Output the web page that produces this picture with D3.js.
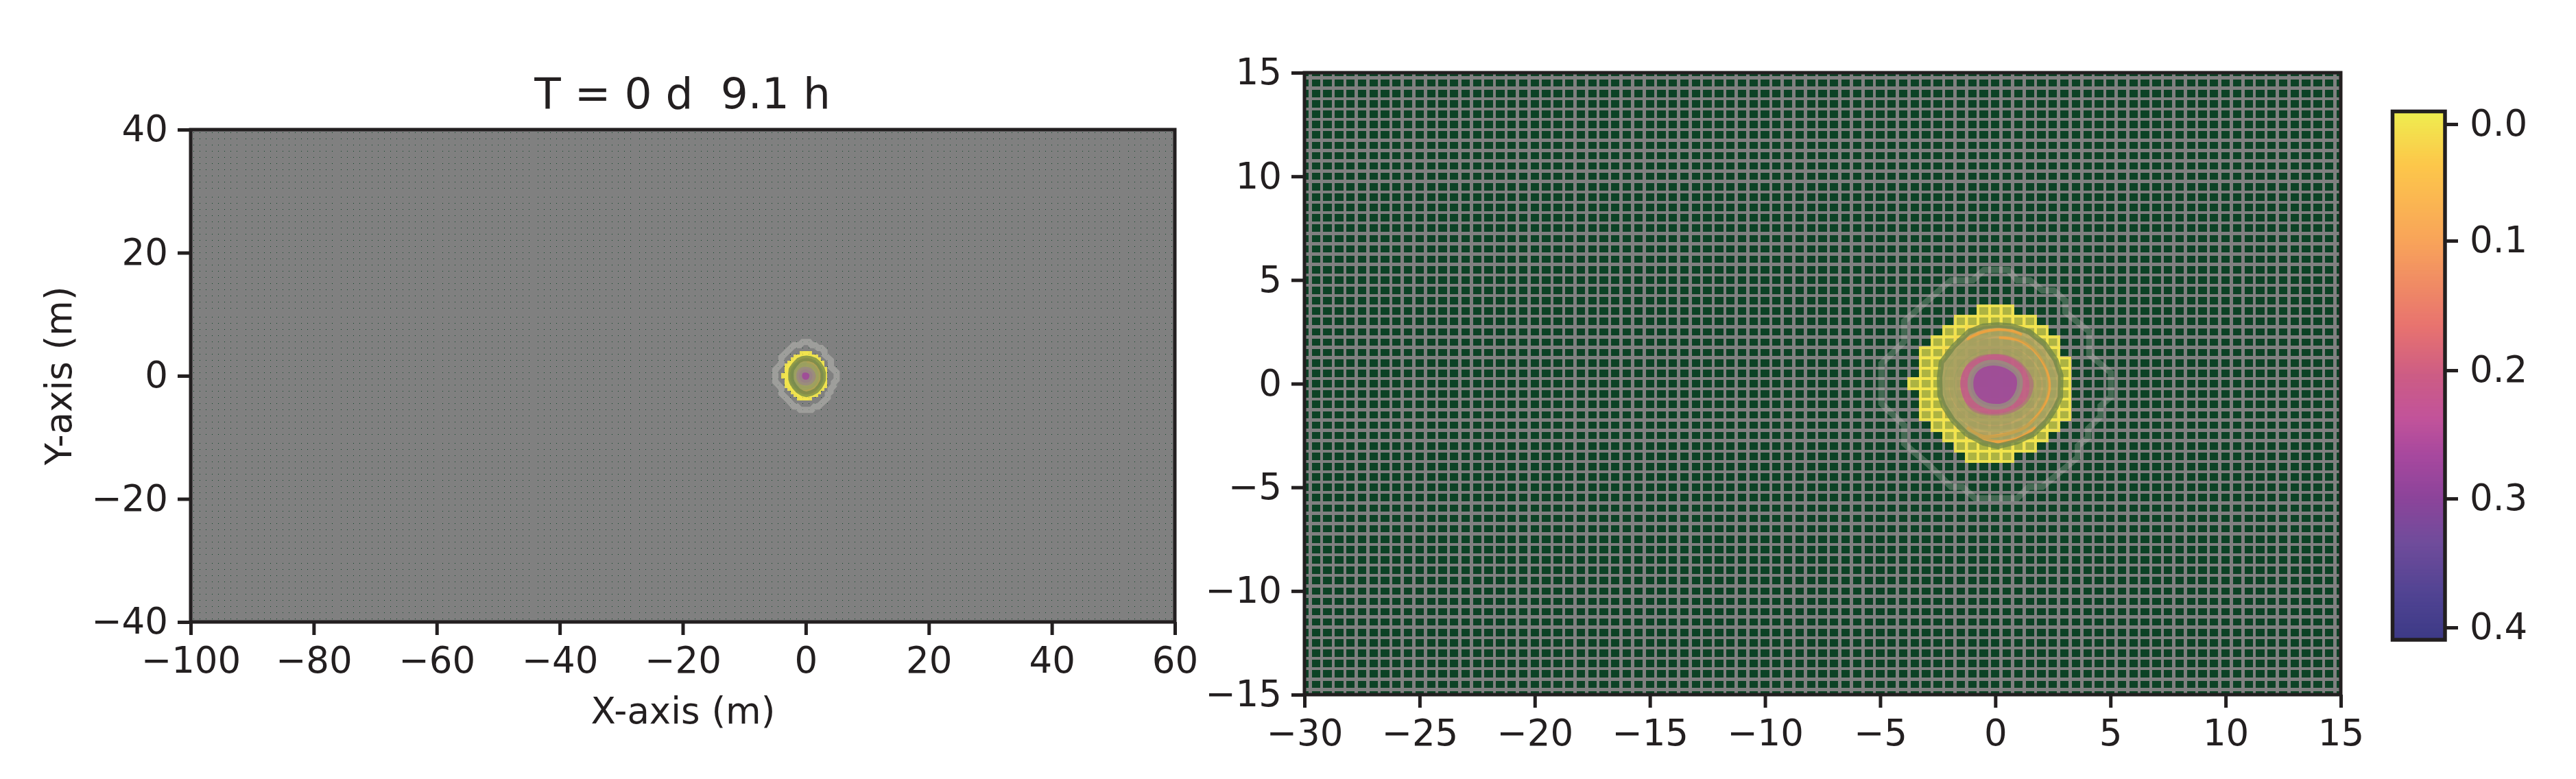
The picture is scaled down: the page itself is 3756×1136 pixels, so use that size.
<!DOCTYPE html>
<html><head><meta charset="utf-8">
<script src="https://cdnjs.cloudflare.com/ajax/libs/d3/7.8.5/d3.min.js"></script>
<style>html,body{margin:0;padding:0;background:#fff}svg{display:block}text{font-family:"DejaVu Sans";fill:#231f20}</style>
</head><body><svg id="c" width="3756" height="1136"></svg>
<script>
// ---- data (metres / colour-bar units) ----
const titleText = "T = 0 d\u00a0\u00a09.1 h";
const leftXTicks = [-100,-80,-60,-40,-20,0,20,40,60];
const leftYTicks = [-40,-20,0,20,40];
const rightXTicks = [-30,-25,-20,-15,-10,-5,0,5,10,15];
const rightYTicks = [-15,-10,-5,0,5,10,15];
const barTicks = [0,0.1,0.2,0.3,0.4];
const meshXRange = [-99.75,59.75], meshYRange = [-39.75,39.75], meshStep = 0.5;

const rowY =     [3.5,3,2.5,2,1.5,1,0.5,0,-0.5,-1,-1.5,-2,-2.5,-3,-3.5];
const rowStart = [-0.5,-1.5,-2,-2.5,-3,-3,-3,-3.5,-3,-3,-3,-2.5,-2,-1.5,-1];
const rowValues = [
 [0,0,0],
 [0,0,0,0,0,0,0],
 [0,0,.01,.02,.02,.02,.01,0,0],
 [0,0,.01,.03,.05,.05,.05,.03,.01,0,0],
 [0,0,.01,.03,.07,.10,.12,.10,.07,.03,.01,0],
 [0,0,.02,.06,.11,.17,.22,.17,.11,.06,.02,0,0],
 [0,0,.03,.08,.15,.25,.30,.25,.15,.08,.03,0,0],
 [0,0,0,.03,.10,.20,.30,.32,.30,.20,.10,.03,0,0],
 [0,0,.03,.08,.15,.25,.30,.25,.15,.08,.03,0,0],
 [0,0,.02,.06,.11,.17,.22,.17,.11,.06,.02,0,0],
 [0,0,.01,.04,.07,.10,.12,.10,.07,.04,.01,0,0],
 [0,0,.01,.03,.05,.05,.05,.03,.01,0,0],
 [0,0,.01,.02,.02,.02,.01,0,0],
 [0,0,0,0,0,0,0],
 [0,0,0,0]
];
const outerRing = [[-.49,5.49],[-.98,4.99],[-1.92,4.99],[-2.27,4.66],[-3.96,3.01],[-3.96,2.02],[-4.95,.97],[-4.95,-.96],[-3.96,-2.01],[-3.96,-2.89],[-2.92,-3.88],[-1.92,-4.98],[-1.43,-4.98],[-.88,-5.53],[.95,-5.53],[1.45,-4.98],[2.04,-4.98],[3.58,-3.55],[3.58,-3],[4.03,-2.61],[4.03,-2.17],[4.57,-1.57],[4.57,-1.07],[5.02,-.63],[5.02,.53],[4.08,1.41],[4.08,2.51],[3.04,3.45],[3.04,4],[2.54,4.5],[2.04,4.5],[1.5,4.99],[.95,4.99],[.56,5.49]];
const ringA = [[.11,2.83],[.73,2.77],[1.47,2.5],[2.14,1.91],[2.62,1.14],[2.84,.4],[2.82,-.66],[2.62,-1.14],[2.24,-1.8],[1.67,-2.42],[.93,-2.8],[.11,-3.02],[-.52,-2.86],[-1.25,-2.42],[-1.83,-1.78],[-2.25,-1.06],[-2.4,-.55],[-2.42,.31],[-2.34,1.03],[-1.83,1.77],[-1.15,2.5],[-.52,2.77]];
const ringB = [[.1,2.42],[1.25,2.13],[2.05,1.3],[2.52,.2],[2.4,-.85],[1.75,-1.8],[.8,-2.4],[-.2,-2.62],[-1.2,-2.2],[-2,-1.3],[-2.3,-.2],[-2.1,.95],[-1.2,1.95]];
const ringC = [[.05,2.05],[1.1,1.75],[1.85,1.05],[2.2,0],[2,-.95],[1.4,-1.7],[.4,-2.15],[-.6,-2.1],[-1.5,-1.55],[-2.05,-.7],[-2.1,.35],[-1.65,1.25],[-.85,1.85]];
const ringD = [[0,1.78],[.95,1.5],[1.6,.85],[1.87,0],[1.65,-.85],[1.05,-1.5],[.1,-1.85],[-.9,-1.65],[-1.6,-1],[-1.88,-.1],[-1.7,.75],[-1.05,1.45]];
const ringE = [[-.1,1.55],[.75,1.35],[1.35,.8],[1.6,0],[1.45,-.8],[.85,-1.35],[-.1,-1.6],[-.9,-1.4],[-1.5,-.8],[-1.68,0],[-1.5,.75],[-.9,1.3]];
const pinkDisc = [[-.24,1.42],[.56,1.36],[1.15,.98],[1.65,.09],[1.45,-.79],[.75,-1.39],[-.24,-1.53],[-1.03,-1.28],[-1.43,-.57],[-1.51,.2],[-1.23,.92],[-.78,1.31]];
const coreRing = [[.01,1.01],[.61,.81],[1,.42],[1.07,-.02],[.95,-.51],[.61,-.95],[.06,-1.12],[-.59,-.95],[-.98,-.51],[-1.08,.09],[-.93,.59],[-.54,.92]];
const orangeArcs = [
 [[-1.23,2.13],[-.63,2.46],[.06,2.6],[.75,2.52],[1.15,2.35]],
 [[.16,2.22],[.95,2.13],[1.55,1.75],[2.04,1.09],[2.32,.2],[2.29,-.57],[1.94,-1.34],[1.35,-2.06],[.46,-2.44],[-.54,-2.53],[-1.23,-2.11]],
 [[-.73,-2.55],[.16,-2.8],[1.05,-2.61],[1.75,-2.11]]
];
const barStopFractions = [0,.1,.246,.405,.5,.58,.65,.73,.815,.915,1];
const barStopColors = ["#efed4f","#fdc74a","#f8a35a","#e8736f","#cc5c85","#c2539a","#a7489e","#8c449a","#704c9b","#504392","#3c3a86"];

// ---- layout ----
const INK = "#231f20", GREEN = "#0c4225", GRAY = "#808080";
const svg = d3.select("#c");
const barBox = {x0:3488.5,x1:3565,y0:162.5,y1:933};
const barTickPx = [181,351,540,727,915];
const valueToPx = d3.scaleLinear().domain(barTicks).range(barTickPx);
const fracToColor = d3.scaleLinear().domain(barStopFractions).range(barStopColors);
const cmap = v => fracToColor((valueToPx(v)-barBox.y0)/(barBox.y1-barBox.y0));

const cells = rowY.flatMap((y,r)=>rowValues[r].map((v,i)=>({x:rowStart[r]+i*meshStep,y,v})));

function panel(id,box,xDom,yDom,xTicks,yTicks){
  const x=d3.scaleLinear().domain(xDom).range([box.x0,box.x1]);
  const y=d3.scaleLinear().domain(yDom).range([box.y1,box.y0]);
  svg.append("clipPath").attr("id",id).append("rect")
     .attr("x",box.x0).attr("y",box.y0).attr("width",box.x1-box.x0).attr("height",box.y1-box.y0);
  const g=svg.append("g").attr("clip-path",`url(#${id})`);
  g.append("rect").attr("x",box.x0).attr("y",box.y0).attr("width",box.x1-box.x0).attr("height",box.y1-box.y0).attr("fill",GREEN);
  const xEdges=d3.range(meshXRange[0],meshXRange[1]+.01,meshStep);
  const yEdges=d3.range(meshYRange[0],meshYRange[1]+.01,meshStep);
  const gridPath=xEdges.map(e=>`M${x(e)},${box.y0}V${box.y1}`).join("")+yEdges.map(e=>`M${box.x0},${y(e)}H${box.x1}`).join("");
  g.append("path").attr("d",gridPath).attr("stroke",GRAY).attr("stroke-width",box.grid).attr("fill","none").attr("shape-rendering","crispEdges");
  g.selectAll("rect.cell").data(cells).join("rect").attr("class","cell")
    .attr("x",d=>x(d.x-meshStep/2)).attr("y",d=>y(d.y+meshStep/2))
    .attr("width",d=>x(d.x+meshStep/2)-x(d.x-meshStep/2))
    .attr("height",d=>y(d.y-meshStep/2)-y(d.y+meshStep/2))
    .attr("fill",d=>{const c=d3.color(cmap(d.v));c.opacity=.7;return c.formatRgb();})
    .attr("stroke",d=>cmap(d.v)).attr("stroke-opacity",.9).attr("stroke-width",4).attr("shape-rendering","crispEdges");
  const closed=d3.line().x(d=>x(d[0])).y(d=>y(d[1])).curve(d3.curveLinearClosed);
  const smooth=d3.line().x(d=>x(d[0])).y(d=>y(d[1])).curve(d3.curveCatmullRomClosed);
  const open=d3.line().x(d=>x(d[0])).y(d=>y(d[1])).curve(d3.curveCatmullRom);
  g.append("path").attr("d",closed(outerRing)).attr("fill","none").attr("stroke","#c4c4bc").attr("stroke-opacity",box.ring).attr("stroke-width",9);
  g.append("path").attr("d",closed(ringA)).attr("fill","#b0a068").attr("fill-opacity",.82);
  orangeArcs.forEach(a=>g.append("path").attr("d",open(a)).attr("fill","none").attr("stroke","#f5a23c").attr("stroke-opacity",.85).attr("stroke-width",4.5));
  g.append("path").attr("d",smooth(pinkDisc)).attr("fill","#c54a92").attr("fill-opacity",.7);
  [ringB,ringC,ringD,ringE].forEach(r=>g.append("path").attr("d",smooth(r)).attr("fill","none").attr("stroke","#94a060").attr("stroke-opacity",.42).attr("stroke-width",8));
  g.append("path").attr("d",closed(ringA)).attr("fill","none").attr("stroke","#6f8548").attr("stroke-opacity",.75).attr("stroke-width",8);
  g.append("path").attr("d",smooth(coreRing)).attr("fill","#96489c").attr("fill-opacity",.75).attr("stroke","#96907f").attr("stroke-opacity",.8).attr("stroke-width",8.5);
  svg.append("rect").attr("x",box.x0).attr("y",box.y0).attr("width",box.x1-box.x0).attr("height",box.y1-box.y0)
     .attr("fill","none").attr("stroke",INK).attr("stroke-width",5);
  const ax=svg.append("g").attr("transform",`translate(0,${box.y1})`).call(d3.axisBottom(x).tickValues(xTicks).tickSize(19).tickPadding(17).tickFormat(d3.format("d")));
  const ay=svg.append("g").attr("transform",`translate(${box.x0},0)`).call(d3.axisLeft(y).tickValues(yTicks).tickSize(19).tickPadding(14).tickFormat(d3.format("d")));
  [ax,ay].forEach(a=>{a.select(".domain").remove();a.selectAll("line").attr("stroke",INK).attr("stroke-width",5);
    a.selectAll("text").attr("font-family","DejaVu Sans").attr("font-size",53).attr("fill",INK);});
}
panel("pL",{x0:278,x1:1713,y0:189,y1:907,grid:4,ring:.45},[-100,60],[-40,40],leftXTicks,leftYTicks);
panel("pR",{x0:1902,x1:3413,y0:106,y1:1013,grid:4.5,ring:.3},[-30,15],[-15,15],rightXTicks,rightYTicks);

// titles
svg.append("text").attr("x",995).attr("y",158).attr("text-anchor","middle").attr("font-size",63).text(titleText);
svg.append("text").attr("x",996).attr("y",1055).attr("text-anchor","middle").attr("font-size",53).text("X-axis (m)");
svg.append("text").attr("transform","translate(104,548) rotate(-90)").attr("text-anchor","middle").attr("font-size",53).text("Y-axis (m)");

// colour bar
const bar=svg.append("g");
const slicePx=d3.range(barBox.y0,barBox.y1,2);
bar.selectAll("rect").data(slicePx).join("rect").attr("x",barBox.x0).attr("width",barBox.x1-barBox.x0).attr("y",d=>d).attr("height",2.5)
   .attr("fill",d=>fracToColor((d-barBox.y0)/(barBox.y1-barBox.y0)));
svg.append("rect").attr("x",barBox.x0).attr("y",barBox.y0).attr("width",barBox.x1-barBox.x0).attr("height",barBox.y1-barBox.y0)
   .attr("fill","none").attr("stroke",INK).attr("stroke-width",5.5);
const barAxis=svg.append("g").attr("transform",`translate(${barBox.x1},0)`).call(d3.axisRight(valueToPx).tickValues(barTicks).tickSize(19).tickPadding(17).tickFormat(d3.format(".1f")));
barAxis.select(".domain").remove();
barAxis.selectAll("line").attr("stroke",INK).attr("stroke-width",5);
barAxis.selectAll("text").attr("font-family","DejaVu Sans").attr("font-size",53).attr("fill",INK);
</script></body></html>
